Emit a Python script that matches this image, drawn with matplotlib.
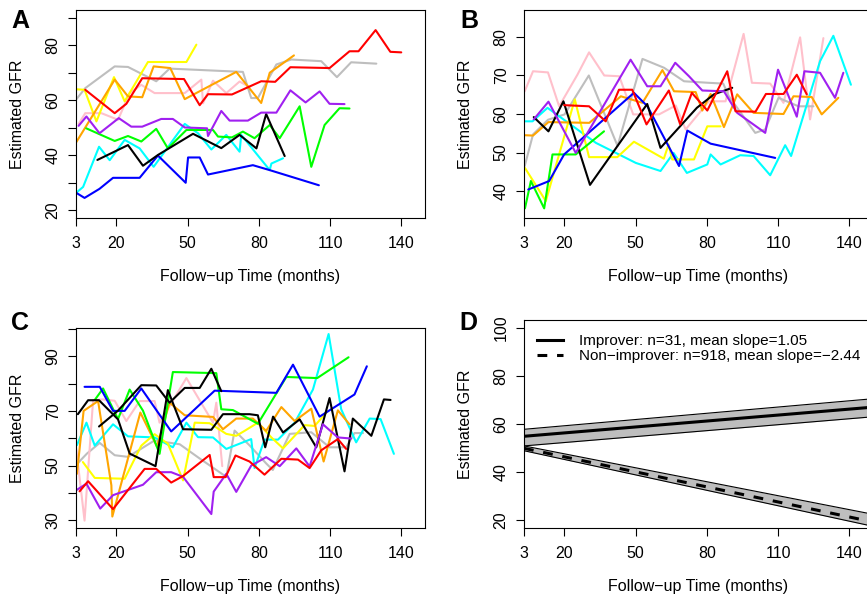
import matplotlib
matplotlib.use("Agg")
import matplotlib.pyplot as plt

plt.rcParams['font.family'] = ['Liberation Sans', 'DejaVu Sans']

# R colour names used in the original
COL = {'black': '#000000', 'blue': '#0000FF', 'cyan': '#00FFFF', 'green': '#00FF00',
       'yellow': '#FFFF00', 'red': '#FF0000', 'orange': '#FFA500', 'pink': '#FFC0CB',
       'purple': '#A020F0', 'gray': '#BEBEBE'}

# ---- panel A : improvers (months, eGFR) ----
panel_a = [
    ('gray', [3, 6.9, 19.3, 24.9, 36.8, 42.4, 73.3, 76.8, 79.6, 87.4, 93.7, 106.3, 112.9, 118.9, 129.5],
             [60.2, 64.4, 72.3, 72.1, 66.9, 71.5, 70.3, 60.8, 60.8, 73, 74.8, 74.2, 68.4, 73.8, 73.3]),
    ('pink', [4.1, 6.9, 13.7, 20.7, 25.6, 30.5, 36.1, 48.8, 55.8, 56.5, 60.7, 66.3, 71.9, 76.1],
             [51.4, 55.3, 55.3, 52.9, 62.6, 65.6, 62.6, 62.6, 67.5, 58.9, 67.1, 62.6, 66.8, 64.8]),
    ('yellow', [3, 6.6, 11.6, 19, 23.5, 33.3, 49.5, 53.7],
               [64, 63.8, 52.3, 68.4, 59.6, 73.9, 73.9, 80.2]),
    ('orange', [3, 19.3, 24.9, 30.9, 35.7, 42.7, 48.8, 70.5, 81, 84.6, 94.8],
               [44.6, 67.5, 61.4, 61.1, 72.3, 71.7, 60.4, 70.3, 59, 70, 76.3]),
    ('cyan', [3, 6, 12.7, 17.2, 23.5, 29.8, 35.7, 48.8, 54.4, 60, 66.3, 71.9, 72.6, 84.6, 85.3, 90.2],
             [26.3, 28.5, 43.1, 38.2, 45.6, 42.5, 35.8, 51.4, 48, 42.1, 47.4, 41.3, 47.4, 34.6, 37, 38.9]),
    ('green', [7.3, 19.3, 24.9, 30.5, 36.8, 41.7, 49.5, 60.7, 62.8, 68.7, 73.3, 78.2, 84.6, 88.8, 97.2, 102.1, 107.7, 114, 118.2],
              [49.8, 45.2, 47, 45, 49.6, 42.5, 49.2, 49.2, 46.8, 46.5, 48.6, 46.2, 51, 46.2, 57.8, 35.8, 51, 57.1, 57]),
    ('blue', [3, 6.6, 12.9, 18.6, 29.8, 37.5, 49.2, 50.2, 55.1, 58.6, 77.5, 84.6, 105.3],
             [26.4, 24.5, 27.8, 31.8, 31.8, 39.9, 30, 39.2, 39.2, 33, 36.4, 34.6, 29.1]),
    ('black', [12, 24.9, 31.2, 37.5, 52.3, 64.2, 71.9, 79, 83.1, 90.9],
              [38.3, 43.7, 36.2, 40.1, 47.8, 42.6, 47.4, 42.5, 55, 39.7]),
    ('purple', [4.1, 7.4, 12.9, 21, 26.3, 30.9, 38.9, 43.8, 48.8, 58.2, 58.6, 64.2, 67.7, 75.4, 81, 87.4, 93.3, 99.7, 105.6, 109.8, 116.1],
               [50.7, 54.1, 48, 53.5, 50.4, 50.4, 53.2, 53.2, 50.1, 49.8, 47, 56.1, 52.6, 52.6, 55.5, 55.5, 63.6, 59.2, 63.2, 58.7, 58.6]),
    ('red', [6.9, 19.3, 24.2, 30.9, 48.5, 55.1, 58.6, 68.7, 81, 86.9, 93.3, 109.8, 118.2, 122, 129.2, 135.4, 140],
            [63.8, 55.3, 58.7, 68, 67.7, 58.2, 62.2, 62.1, 66.9, 66.7, 72, 71.7, 77.8, 77.8, 85.5, 77.6, 77.4]),
]

# ---- panel B ----
panel_b = [
    ('pink', [3.3, 6.8, 13.1, 17.8, 25.5, 30.4, 36.8, 43.1, 49, 54.3, 59.9, 66.9, 71.1, 80.9, 87.9, 95.5, 99, 106.7, 112.3, 119.3, 123.5, 129.1],
             [65.9, 71.1, 70.8, 62, 70.2, 76, 70, 69.8, 59.9, 59.9, 59.9, 62.2, 56, 63.3, 63.3, 80.8, 68.1, 67.9, 62.9, 79.9, 58.6, 79.7]),
    ('gray', [3.3, 6.8, 13.1, 20.1, 30.3, 42.4, 52.9, 62, 70.4, 80.7, 86.9, 89.3, 100.4, 104.6, 110.2, 118.6, 124.9],
             [46.5, 54.7, 58.5, 59.9, 70, 51.7, 74.3, 72, 68.5, 68.1, 67.9, 64.6, 55.1, 56, 64.2, 62, 62]),
    ('cyan', [3.4, 6.6, 12.9, 33.3, 50.1, 60.5, 66, 71.6, 80.2, 81.6, 85.8, 94.1, 99.7, 106.7, 113, 115.5, 127.7, 133.3, 140.7],
             [58.1, 58.1, 61.6, 52.5, 47.3, 45.2, 49.9, 44.7, 46.9, 49.5, 46.9, 49.3, 49.1, 44.1, 51.9, 49.1, 73.7, 80.3, 67.6]),
    ('yellow', [3.4, 12.2, 24.4, 30.4, 42.3, 49.3, 61.9, 63.9, 65.4, 74.6, 80.2, 85.8],
               [46, 37.4, 63.8, 48.8, 48.8, 52.8, 48.4, 52.1, 48.2, 48.2, 56.8, 56.8]),
    ('green', [3.4, 5.9, 11.5, 15, 24.8, 36.7],
              [35.5, 42.6, 35.5, 49.5, 49.5, 55.5]),
    ('orange', [3, 6.8, 13.3, 30.5, 43.8, 52.9, 61.3, 66.2, 75.3, 78.1, 81.6, 87.2, 92.8, 99.7, 112.3, 116.5, 124.2, 128.4, 135.4],
               [54.5, 54.4, 57.9, 57.7, 64.6, 62.9, 71.4, 65.9, 65.7, 60.9, 65.2, 56.6, 65.1, 60.3, 60, 64.6, 64.4, 59.9, 64.2]),
    ('blue', [4.8, 13.6, 19.9, 49.3, 55, 68.3, 71.8, 81.6, 108.8],
             [40.4, 42.6, 49.5, 65.5, 62, 46.5, 55.7, 52.3, 48.6]),
    ('black', [7.1, 13.3, 19.6, 30.8, 54.9, 60.5, 75.8, 83, 90.7],
              [59.2, 55.5, 63.3, 41.6, 62.6, 51.2, 61.6, 65.1, 66.8]),
    ('purple', [7.1, 13.3, 24.8, 47.9, 54.9, 60.5, 66.7, 72.5, 78.1, 87.2, 92.8, 104.6, 110, 117.9, 121.1, 127.7, 134, 137.5],
               [58.6, 63.2, 49.9, 74.1, 67.2, 67.2, 73.3, 69.8, 66.1, 65.9, 60.3, 55.1, 71.5, 59.3, 71.1, 70.7, 64.2, 70.7]),
    ('red', [19.9, 30.4, 37.4, 43, 48.6, 54.6, 64, 68.8, 73.7, 80.2, 88.6, 92.1, 100.5, 104.9, 112.3, 117.9, 122.1],
            [62.3, 62, 58.1, 66.3, 66.3, 57.3, 66.1, 57.3, 65.5, 60.9, 71.1, 60.7, 60.6, 65.2, 65.2, 70.2, 65.1]),
]

# ---- panel C ----
panel_c = [
    ('gray', [3, 7.6, 13, 19.3, 24.9, 36.1, 46.7, 55.1, 66.3, 69.8, 76.1, 83.1, 85.9, 93, 102.1, 109.8, 116.8, 120.3, 123.9],
             [50.2, 54.4, 58.3, 53.8, 53.2, 59.2, 57.8, 52.6, 45.9, 62.8, 57.4, 50.8, 48.4, 61.6, 62.2, 56.7, 56.7, 61.9, 61.9]),
    ('pink', [3.1, 6.6, 10.2, 14.4, 19.3, 24.2, 29.8, 36.1, 38.2, 49.5, 60.7, 62.1, 64.6],
             [56.1, 29.9, 73.9, 74.2, 73.7, 66.3, 73.6, 73.6, 65.7, 82, 65.7, 73, 49.8]),
    ('cyan', [3.4, 7.4, 10.9, 18.6, 24.9, 36.1, 43.8, 49.5, 54.4, 60.7, 66.3, 76.8, 78.2, 82.4, 88.1, 95.1, 102.8, 109.4, 114.7, 121, 126.7, 131.3, 136.9],
             [57.5, 65.7, 57.3, 65.1, 60.7, 60.3, 56.7, 65.7, 60.4, 60.3, 56.1, 59.7, 49.1, 59.5, 59.5, 65.7, 77.8, 98.1, 70.6, 58.5, 67.2, 67, 54.3]),
    ('yellow', [5.9, 10.9, 23.5, 30.5, 36.1, 41.7, 48.1, 53, 59.3, 66.3, 70.5, 74, 79.6, 85.3, 90.2, 99.3, 103.5, 109.1],
               [51.3, 45.5, 45.2, 57.3, 61.5, 58, 44.6, 65.7, 65.5, 61.6, 60.9, 62.7, 65.7, 60.3, 56.3, 64.8, 64.5, 70]),
    ('orange', [3.4, 6.2, 12.3, 17.9, 18.3, 30.1, 37.1, 42.4, 48.8, 60.7, 64.9, 70.5, 77.5, 83.1, 89.5, 95.1, 102.1, 107.3, 113.3, 118.2],
               [47, 70, 73.6, 42.8, 31.4, 69.4, 57, 73, 68.4, 67.8, 63.3, 67.2, 67.2, 62.7, 71.4, 66.3, 70.8, 51.5, 70.2, 65.1]),
    ('green', [10.9, 14.4, 20.7, 25.6, 31.2, 38.2, 43.8, 62.1, 64.2, 69.1, 79.6, 91.6, 104.6, 117.8],
              [74, 78.2, 67, 77.8, 70.1, 54.3, 84.2, 83.8, 70.6, 70.3, 65.3, 82.4, 82, 89.6]),
    ('blue', [6.6, 13, 18.6, 23.5, 30.5, 43.1, 61.4, 87.4, 94.4, 105.6, 120.3, 125.5],
             [78.8, 78.8, 70, 70, 78.2, 62.5, 77.4, 76.6, 86.9, 67.9, 76, 86.3]),
    ('black', [3.8, 8.1, 12.7, 20.7, 25.6, 36.5, 41.7, 48.1, 60, 64.9, 76.1, 79.6, 82.7, 86, 90.2, 97.2, 104.2, 109.8, 116.1, 119.6, 127.4, 132.7, 135.5],
              [68.8, 73.9, 73.9, 66.9, 54.4, 49.8, 77.6, 63.3, 63.1, 68.8, 68.8, 68.4, 56.7, 67.9, 62.1, 66.9, 56.7, 74.7, 47.9, 67.2, 60.9, 74.2, 74]),
    ('black', [12.7, 20.7, 30.5, 36.8, 42.4, 48.8, 55.1, 60, 64.2],
              [64.3, 70.1, 79.4, 79.3, 73, 78.4, 78.4, 85.4, 77.2]),
    ('purple', [3.1, 7.4, 13.2, 18.6, 24.9, 31.2, 36.8, 43.1, 48.1, 60, 61, 66.3, 70.5, 76.8, 83.1, 88.8, 95.8, 101.4, 107, 113.3, 118.9],
               [41, 43.4, 34.3, 39.2, 41.1, 43, 47.6, 47.6, 45.9, 32.3, 40.5, 47, 40.4, 50, 53.1, 49.8, 56.3, 49.7, 65.1, 60.3, 59.9]),
    ('red', [4.5, 8.1, 18.6, 31.9, 36.8, 43.1, 48.1, 59.3, 61, 66, 70.2, 76.1, 82.4, 89.5, 96.5, 101.4, 106.3, 113.3, 116.8],
            [40.6, 44.3, 34.1, 48.8, 48.8, 43.8, 46.2, 53.9, 45.8, 45.8, 53.7, 51.5, 46.7, 52.5, 52.2, 49.1, 55.6, 59.7, 56.1]),
]

# ---- panel D : fitted mean trajectories with confidence bands ----
d_months = [3, 150]
imp_fit = [54.9, 67.0]
imp_lo = [50.9, 63.0]
imp_hi = [57.8, 70.5]
non_fit = [49.9, 19.3]
non_lo = [48.9, 17.5]
non_hi = [50.9, 22.5]
imp_label = 'Improver: n=31, mean slope=1.05'
non_label = 'Non\u2212improver: n=918, mean slope=\u22122.44'

x_ticks = [3, 20, 50, 80, 110, 140]
FS = 11.5

W, H = 867, 597
fig = plt.figure(figsize=(W / 100, H / 100), dpi=100)

def px_axes(left, top, right, bottom):
    return fig.add_axes([left / W, 1 - bottom / H, (right - left) / W, (bottom - top) / H])

def style(ax, ylim, yticks, ylabels):
    ax.set_xlim(3, 150)
    ax.set_ylim(*ylim)
    ax.set_xticks(x_ticks)
    ax.set_xticklabels([str(t) for t in x_ticks], fontsize=FS)
    ax.set_yticks(yticks)
    ax.set_yticklabels(ylabels, fontsize=FS, rotation=90, va='center')
    ax.tick_params(direction='out', length=6, width=0.8, color='black')
    ax.tick_params(axis='x', pad=7)
    ax.tick_params(axis='y', pad=5)
    for s in ax.spines.values():
        s.set_linewidth(0.8)
        s.set_color('black')
    ax.set_xlabel('Follow\u2212up Time (months)', fontsize=FS, va='center')
    ax.set_ylabel('Estimated GFR', fontsize=FS, va='center')
    h = ax.get_position().height * H
    w = ax.get_position().width * W
    ax.xaxis.set_label_coords(0.5, -58 / h)
    ax.yaxis.set_label_coords(-58 / w, 0.5)

def spaghetti(ax, series):
    for c, t, g in series:
        ax.plot(t, g, color=COL[c], lw=1.5, solid_capstyle='round', solid_joinstyle='round')

axA = px_axes(76, 10, 425, 218)
spaghetti(axA, panel_a)
style(axA, (17.2, 92.8), range(20, 91, 10), ['20', '', '40', '', '60', '', '80', ''])

axB = px_axes(524, 10, 873, 218)
spaghetti(axB, panel_b)
style(axB, (33, 87), range(40, 81, 10), ['40', '50', '60', '70', '80'])

axC = px_axes(76, 328, 425, 528)
spaghetti(axC, panel_c)
style(axC, (27.2, 100.3), range(30, 101, 10), ['30', '', '50', '', '70', '', '90', ''])

axD = px_axes(524, 320, 873, 528)
axD.fill_between(d_months, imp_lo, imp_hi, color='#BEBEBE', lw=0)
axD.plot(d_months, imp_lo, color='black', lw=0.8)
axD.plot(d_months, imp_hi, color='black', lw=0.8)
axD.fill_between(d_months, non_lo, non_hi, color='#BEBEBE', lw=0)
axD.plot(d_months, non_lo, color='black', lw=0.8)
axD.plot(d_months, non_hi, color='black', lw=0.8)
axD.plot(d_months, imp_fit, color='black', lw=2.2, label=imp_label)
axD.plot(d_months, non_fit, color='black', lw=2.2, dashes=(3.2, 3.2), label=non_label)
style(axD, (16.8, 103.2), range(20, 101, 20), ['20', '40', '60', '80', '100'])
axD.legend(loc='upper left', bbox_to_anchor=(0.036, 0.932), frameon=False, fontsize=11,
           borderpad=0, borderaxespad=0, labelspacing=0.05, handlelength=1.75, handletextpad=1.0)

for lab, x, y in [('A', 20, 21), ('B', 469, 21), ('C', 20, 323), ('D', 468, 323)]:
    fig.text(x / W, 1 - y / H, lab, fontsize=18, fontweight='bold', ha='center', va='center')

fig.savefig('out.png', dpi=100)
